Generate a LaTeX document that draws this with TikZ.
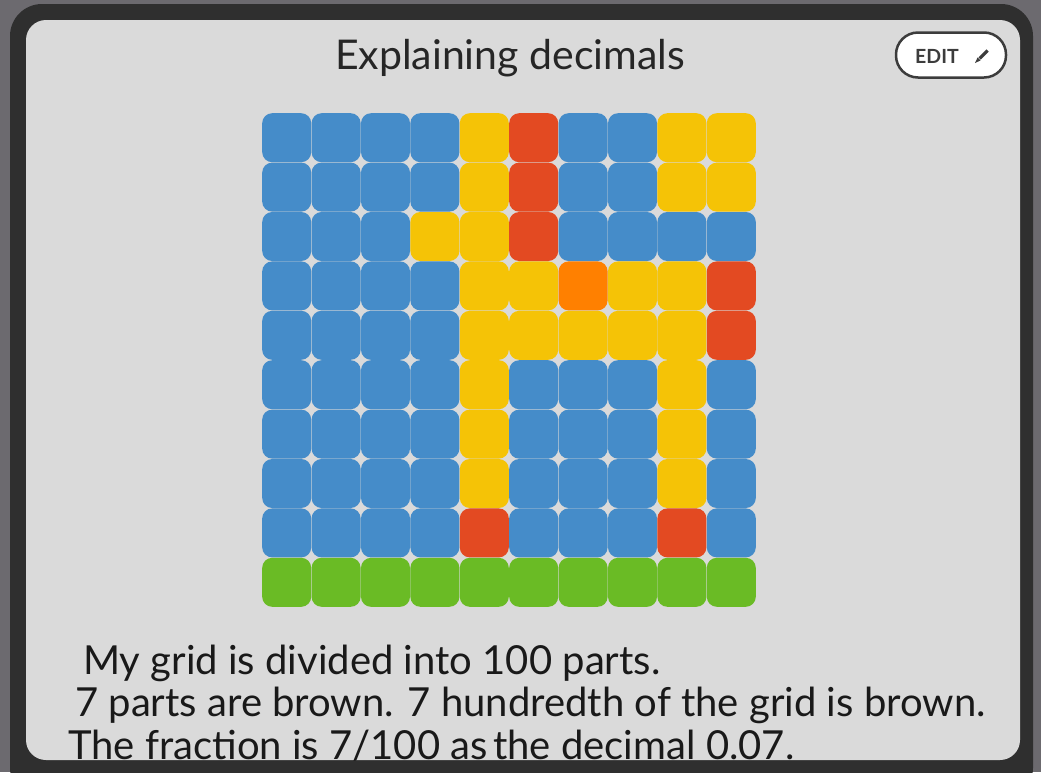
\documentclass[tikz,border=0pt]{standalone}
\usepackage{fontspec}
\setmainfont{Lato}
\definecolor{outerbg}{HTML}{6C6A6F}
\definecolor{framegray}{HTML}{2F2F2F}
\definecolor{panelgray}{HTML}{DADADA}
\definecolor{tileb}{HTML}{458CC9}
\definecolor{tiley}{HTML}{F5C306}
\definecolor{tiler}{HTML}{E34A22}
\definecolor{tileo}{HTML}{FF8000}
\definecolor{tileg}{HTML}{6ABB25}
\definecolor{editgray}{HTML}{3C3C3C}
\tikzset{
  tile/.style={rectangle,rounded corners=10pt,minimum size=49pt,inner sep=0pt},
  bigtext/.style={inner sep=0pt,font=\fontsize{40}{44}\selectfont,text=black!90}
}
\begin{document}
\begin{tikzpicture}[x=1pt,y=-1pt,line cap=round,line join=round]
  \useasboundingbox (0,0) rectangle (1041,772);
  \fill[outerbg] (0,0) rectangle (1041,772);
  % frame and panel
  \fill[framegray,rounded corners=32pt] (10,4) rectangle (1033,800);
  \fill[panelgray,rounded corners=20pt] (26,20) rectangle (1020,760);
  \node[inner sep=0pt,font=\fontsize{41}{44}\selectfont,text=black!85,anchor=base] (title) at (510,69) {Explaining decimals};
  % edit button
  \node[draw=editgray,line width=2.5pt,fill=white,rounded corners=22pt,minimum width=110pt,minimum height=45pt] (edit) at (951,55) {};
  \node[inner sep=0pt,anchor=base west,font=\fontsize{19.5}{20}\selectfont\bfseries,text=editgray] (edittxt) at (915,63) {EDIT};
  \draw[editgray,line width=3.2pt,line cap=butt] (979.5,58.5) -- (987.5,50.5);
  \fill[editgray] (975,63) -- (977.6,57.4) -- (980.6,60.4) -- cycle;
  % the grid
  \foreach \row [count=\r from 0] in {{b,b,b,b,y,r,b,b,y,y},{b,b,b,b,y,r,b,b,y,y},
      {b,b,b,y,y,r,b,b,b,b},{b,b,b,b,y,y,o,y,y,r},{b,b,b,b,y,y,y,y,y,r},
      {b,b,b,b,y,b,b,b,y,b},{b,b,b,b,y,b,b,b,y,b},{b,b,b,b,y,b,b,b,y,b},
      {b,b,b,b,r,b,b,b,r,b},{g,g,g,g,g,g,g,g,g,g}} {
    \foreach \c [count=\k from 0] in \row {
      \node[tile,fill=tile\c] (t-\r-\k) at ({286.7+49.4*\k},{137.7+49.4*\r}) {};
    }
  }
  % text, cut off by the panel
  \begin{scope}
    \clip[rounded corners=20pt] (26,20) rectangle (1020,760);
    \node[bigtext,anchor=base west] (line1) at (83,674) {My grid is divided into 100 parts.};
    \node[bigtext,anchor=base west] (line2) at (75,716) {7 parts are brown. 7 hundredth of the grid is brown.};
    \node[bigtext,anchor=base west] (line3) at (68,759) {The fraction is 7/100 as\hspace{-0.12em} the decimal 0.07.};
  \end{scope}
\end{tikzpicture}
\end{document}
